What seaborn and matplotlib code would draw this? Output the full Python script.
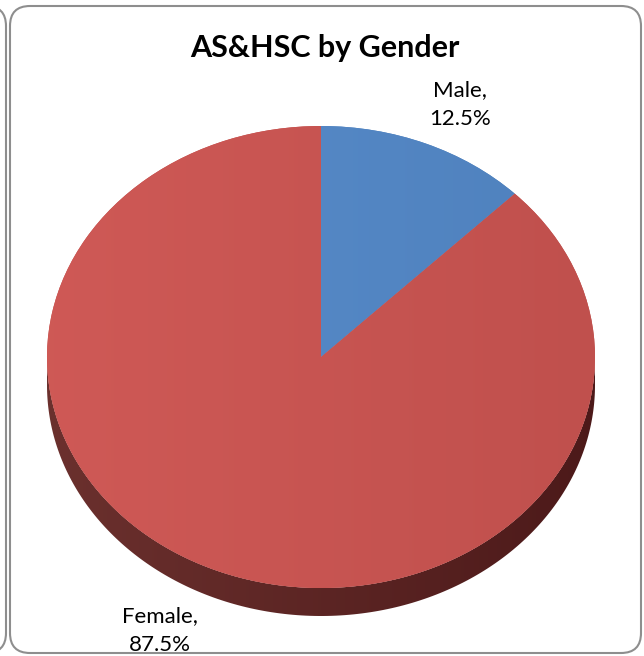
import numpy as np
import matplotlib
matplotlib.use("Agg")
import matplotlib.pyplot as plt
import seaborn as sns
from matplotlib.patches import FancyBboxPatch, Polygon

# data
genders = ["Male", "Female"]
shares = [12.5, 87.5]
top_colors = ["#4f81bd", "#c0504d"]
title = "AS&HSC by Gender"

sns.set_theme(style="white")
plt.rcParams["font.family"] = ["Lato", "DejaVu Sans"]

W, H = 644, 656
fig = plt.figure(figsize=(W / 100, H / 100), dpi=100)

# frame layer in pixel units
bg = fig.add_axes([0, 0, 1, 1])
bg.set_xlim(0, W)
bg.set_ylim(H, 0)
bg.axis("off")
bg.add_patch(FancyBboxPatch((10, 6), 631, 647, boxstyle="round,pad=0,rounding_size=20",
                            fc="none", ec="#8e8e8e", lw=1.5))
bg.add_patch(FancyBboxPatch((-300, 6), 306, 647, boxstyle="round,pad=0,rounding_size=20",
                            fc="none", ec="#8e8e8e", lw=1.5))
bg.text(325, 57, title, ha="center", va="baseline", fontsize=22, fontweight="bold", color="black")

# pie axes: ellipse
cx, cy, a, b, depth = 321, 357, 274, 231, 28
d = depth / b
ax = fig.add_axes([(cx - a) / W, (H - (cy + b + depth)) / H, 2 * a / W, (2 * b + depth) / H])
wedges, _ = ax.pie(shares, colors=top_colors, startangle=90, counterclock=False,
                   wedgeprops=dict(lw=0))
ax.set_aspect("auto")
ax.axis("off")

# side wall of the pie
t = np.linspace(np.pi, 2 * np.pi, 200)
upper = np.column_stack([np.cos(t), np.sin(t)])
lower = np.column_stack([np.cos(t[::-1]), np.sin(t[::-1]) - d])
side = Polygon(np.vstack([upper, lower]), closed=True, fc="none", ec="none")
ax.add_patch(side)
gx = np.linspace(0, 1, 256)
side_shade = np.array([[0.42, 0.19, 0.18]]) * (1 - gx[:, None]) + np.array([[0.30, 0.10, 0.10]]) * gx[:, None]
im = ax.imshow(side_shade[None, :, :], extent=(-1, 1, -1 - d, 0), aspect="auto", zorder=0.5)
im.set_clip_path(side)

# soft gradient on the top faces
for w, c in zip(wedges, top_colors):
    rgb = np.array(matplotlib.colors.to_rgb(c))
    light = np.clip(rgb * 1.05 + 0.02, 0, 1)
    grad = light[None, :] * (1 - gx[:, None]) + rgb[None, :] * gx[:, None]
    im2 = ax.imshow(grad[None, :, :], extent=(-1, 1, -1, 1), aspect="auto", zorder=1.5)
    im2.set_clip_path(w)

ax.set_xlim(-1, 1)
ax.set_ylim(-1 - d, 1)

# labels
label_pos = {"Male": (460, 96), "Female": (160, 622)}
for g, s in zip(genders, shares):
    x, y = label_pos[g]
    bg.text(x, y, f"{g},", ha="center", va="baseline", fontsize=16, color="black")
    bg.text(x, y + 29, f"{s}%", ha="center", va="baseline", fontsize=16, color="black")

fig.savefig("out.png", dpi=100)
